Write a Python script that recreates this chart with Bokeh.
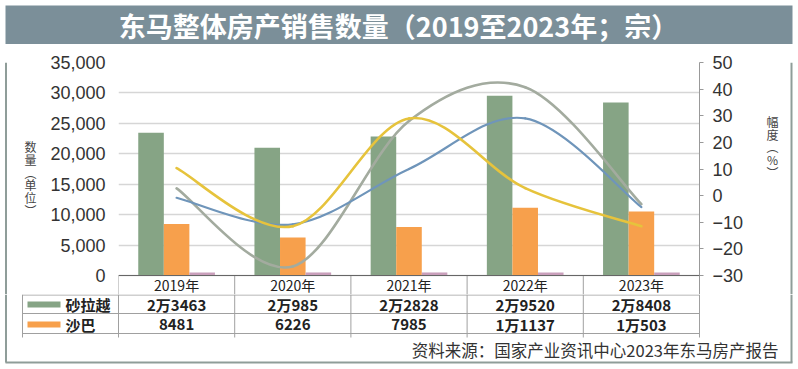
from bokeh.plotting import figure
from bokeh.layouts import column, row
from bokeh.models import (ColumnDataSource, Range1d, LinearAxis, FixedTicker,
                          NumeralTickFormatter, Span)
from bokeh.core.properties import value
from bokeh.transform import dodge
from bokeh.embed import file_html
from bokeh.resources import INLINE

# ---------------- data ----------------
years = ["2019年", "2020年", "2021年", "2022年", "2023年"]
sarawak = [23463, 20985, 22828, 29520, 28408]
sabah = [8481, 6226, 7985, 11137, 10503]
sarawak_txt = ["2万3463", "2万985", "2万2828", "2万9520", "2万8408"]
sabah_txt = ["8481", "6226", "7985", "1万1137", "1万503"]
pink = [500, 500, 500, 500, 500]
line_grey = [2.7, -26.6, 28.0, 40.7, -3.2]
line_blue = [-0.8, -10.8, 10.0, 29.0, -4.3]
line_yellow = [10.3, -11.5, 29.0, 2.8, -11.5]
left_ticks = [0, 5000, 10000, 15000, 20000, 25000, 30000, 35000]
right_ticks = [-30, -20, -10, 0, 10, 20, 30, 40, 50]
title_txt = "东马整体房产销售数量（2019至2023年；宗）"
source_txt = "资料来源：国家产业资讯中心2023年东马房产报告"
left_title = "数\n量\n︵\n单\n位\n︶"
right_title = "幅\n度\n︵\n%\n︶"
series_names = ["砂拉越", "沙巴"]

# ---------------- styles / layout ----------------
C_GREEN = "#86a485"
C_ORANGE = "#f7a04c"
C_PINK = "#c99fbb"
C_LGREY = "#a3ab9f"
C_BLUE = "#6f95ba"
C_YELLOW = "#e6c33c"
C_TITLE = "#7b8f99"
C_FRAME = "#8f9d99"
C_TABLE = "#a0a0a0"
FONT = "Noto Sans CJK SC"
NUMFONT = "Liberation Sans"

W, H = 796, 366          # whole block
TITLE_H = 44             # title strip height
AXIS_Y = 275             # pixel row of value 0 (x axis line)
HEAD_B = 294             # bottom of the header row (end of chart strip)
HEAD_Y = 284             # centre of the header labels
LEFT_W = 46              # left strip with vertical label
RIGHT_X = 755            # start of right strip
FRAME_L, FRAME_R, FRAME_T = 118, 699, 62
CW = (FRAME_R - FRAME_L) / len(years)

xs = list(range(len(years)))
src = ColumnDataSource(dict(x=xs, years=years, sarawak=sarawak, sabah=sabah,
                            pink=pink, st=sarawak_txt, sb=sabah_txt))


def deco_fig(x0, x1, y0, y1):
    f = figure(width=x1 - x0, height=y1 - y0, x_range=Range1d(x0, x1),
               y_range=Range1d(y1, y0), output_backend="svg",
               toolbar_location=None, x_axis_type=None, y_axis_type=None,
               min_border=0)
    f.outline_line_color = None
    f.xgrid.visible = False
    f.ygrid.visible = False
    f.background_fill_color = "white"
    f.border_fill_color = "white"
    return f


# ---------------- title strip ----------------
pt = deco_fig(0, W, 0, TITLE_H)
pt.quad(left=5, right=792, top=5, bottom=TITLE_H, fill_color=C_TITLE, line_color=None)
pt.text(x=[398], y=[25], text=[title_txt], text_font=value(FONT),
        text_font_style="bold", text_font_size="27px", text_color="white",
        text_align="center", text_baseline="middle")

# ---------------- left strip ----------------
pl = deco_fig(0, LEFT_W, TITLE_H, HEAD_B)
pl.segment(x0=[5.5], y0=[TITLE_H], x1=[5.5], y1=[HEAD_B], line_color=C_FRAME, line_width=2)
pl.text(x=[30], y=[169], text=[left_title], text_font=value(FONT),
        text_font_size="12px", text_color="#444444", text_align="center",
        text_baseline="middle", text_line_height=0.76)

# ---------------- right strip ----------------
pr = deco_fig(RIGHT_X, W, TITLE_H, HEAD_B)
pr.segment(x0=[791], y0=[TITLE_H], x1=[791], y1=[HEAD_B], line_color=C_FRAME, line_width=2)
pr.text(x=[772], y=[135], text=[right_title], text_font=value(FONT),
        text_font_size="12px", text_color="#444444", text_align="center",
        text_baseline="middle", text_line_height=0.76)

# ---------------- main chart ----------------
# the frame reaches down through the header row of the table
k_left = (left_ticks[-1] - left_ticks[0]) / (AXIS_Y - FRAME_T)
k_right = (right_ticks[-1] - right_ticks[0]) / (AXIS_Y - FRAME_T)
y_lo = left_ticks[0] - (HEAD_B - AXIS_Y) * k_left
r_lo = right_ticks[0] - (HEAD_B - AXIS_Y) * k_right
head_y = left_ticks[0] - (HEAD_Y - AXIS_Y) * k_left

p = figure(width=RIGHT_X - LEFT_W, height=HEAD_B - TITLE_H,
           x_range=Range1d(-0.5, len(years) - 0.5),
           y_range=Range1d(y_lo, left_ticks[-1]),
           output_backend="svg", toolbar_location=None,
           min_border_left=FRAME_L - LEFT_W, min_border_right=RIGHT_X - FRAME_R,
           min_border_top=FRAME_T - TITLE_H, min_border_bottom=0)
p.extra_y_ranges = {"pct": Range1d(r_lo, right_ticks[-1])}
p.outline_line_color = None
p.background_fill_color = "white"
p.border_fill_color = "white"
p.xaxis.visible = False

p.yaxis.ticker = FixedTicker(ticks=left_ticks)
p.yaxis.formatter = NumeralTickFormatter(format="0,0")
p.yaxis.axis_line_color = None
p.yaxis.major_tick_line_color = None
p.yaxis.minor_tick_line_color = None
p.yaxis.major_tick_out = 0
p.yaxis.major_label_standoff = 13
p.yaxis.major_label_text_font = NUMFONT
p.yaxis.major_label_text_font_size = "18px"
p.yaxis.major_label_text_color = "#333333"

overrides = {t: (str(t) if t >= 0 else "\u2212" + str(-t)) for t in right_ticks}
rax = LinearAxis(y_range_name="pct", ticker=FixedTicker(ticks=right_ticks),
                 major_label_overrides=overrides)
rax.axis_line_color = "#999999"
rax.major_tick_line_color = "#999999"
rax.major_tick_out = 4
rax.major_tick_in = 0
rax.minor_tick_line_color = None
rax.major_label_standoff = 9
rax.major_label_text_font = NUMFONT
rax.major_label_text_font_size = "18px"
rax.major_label_text_color = "#333333"
p.add_layout(rax, "right")

p.xgrid.visible = False
p.ygrid.ticker = FixedTicker(ticks=left_ticks)
p.ygrid.grid_line_color = "#d6d6d6"
p.ygrid.grid_line_width = 1.5

# header row of the table (inside the extended frame)
bounds = [i - 0.5 for i in range(len(years) + 1)]
p.segment(x0=bounds, y0=[left_ticks[0]] * len(bounds), x1=bounds,
          y1=[y_lo] * len(bounds), line_color=C_TABLE, line_width=1)
p.text(x="x", y=head_y, text="years", source=src, text_font=value(FONT),
       text_font_size="14px", text_color="#222222", text_align="center",
       text_baseline="middle")

bw = 0.22
p.vbar(x=dodge("x", -bw), top="sarawak", bottom=left_ticks[0], width=bw, source=src,
       fill_color=C_GREEN, line_color=None)
p.vbar(x=dodge("x", 0), top="sabah", bottom=left_ticks[0], width=bw, source=src,
       fill_color=C_ORANGE, line_color=None)
p.vbar(x=dodge("x", bw), top="pink", bottom=left_ticks[0], width=bw, source=src,
       fill_color=C_PINK, line_color=None)

p.add_layout(Span(location=left_ticks[0], dimension="width", line_color="#666666",
                  line_width=1.2))


def bez_source(vals):
    """Cubic bezier segments through the points (Catmull-Rom control points)."""
    n = len(vals)
    d = {k: [] for k in ["x0", "y0", "x1", "y1", "cx0", "cy0", "cx1", "cy1"]}
    for i in range(n - 1):
        a = max(i - 1, 0)
        b = min(i + 2, n - 1)
        d["x0"].append(xs[i]); d["y0"].append(vals[i])
        d["x1"].append(xs[i + 1]); d["y1"].append(vals[i + 1])
        d["cx0"].append(xs[i] + (xs[i + 1] - xs[a]) / 6)
        d["cy0"].append(vals[i] + (vals[i + 1] - vals[a]) / 6)
        d["cx1"].append(xs[i + 1] - (xs[b] - xs[i]) / 6)
        d["cy1"].append(vals[i + 1] - (vals[b] - vals[i]) / 6)
    return ColumnDataSource(d)


for vals, col, lw in [(line_grey, C_LGREY, 2.6), (line_blue, C_BLUE, 2.2),
                      (line_yellow, C_YELLOW, 2.6)]:
    p.bezier(x0="x0", y0="y0", x1="x1", y1="y1", cx0="cx0", cy0="cy0",
             cx1="cx1", cy1="cy1", source=bez_source(vals), y_range_name="pct",
             line_color=col, line_width=lw, line_cap="round")

# ---------------- table strip ----------------
tx0 = -0.5 - FRAME_L / CW
tx1 = len(years) - 0.5 + (W - FRAME_R) / CW
pb = figure(width=W, height=H - HEAD_B, x_range=Range1d(tx0, tx1),
            y_range=Range1d(H, HEAD_B), output_backend="svg",
            toolbar_location=None, x_axis_type=None, y_axis_type=None, min_border=0)
pb.extra_x_ranges = {"px": Range1d(0, W)}
pb.outline_line_color = None
pb.xgrid.visible = False
pb.ygrid.visible = False
pb.background_fill_color = "white"
pb.border_fill_color = "white"

pb.segment(x0=[22, 22, 22], y0=[HEAD_B + 0.5, 313, 333], x1=[FRAME_R] * 3,
           y1=[HEAD_B + 0.5, 313, 333], x_range_name="px", line_color=C_TABLE,
           line_width=1)
pb.segment(x0=[22], y0=[HEAD_B], x1=[22], y1=[337], x_range_name="px",
           line_color=C_TABLE, line_width=1)
pb.segment(x0=bounds, y0=[HEAD_B] * len(bounds), x1=bounds, y1=[337] * len(bounds),
           line_color=C_TABLE, line_width=1)

pb.quad(left=[27, 27], right=[60, 60], top=[301, 321], bottom=[307, 327],
        fill_color=[C_GREEN, C_ORANGE], line_color=None, x_range_name="px")
pb.text(x=[65, 65], y=[304, 324], text=series_names, x_range_name="px",
        text_font=value(FONT), text_font_style="bold", text_font_size="15px",
        text_color="#222222", text_align="left", text_baseline="middle")

pb.text(x="x", y=304, text="st", source=src, text_font=value(FONT),
        text_font_style="bold", text_font_size="15px", text_color="#222222",
        text_align="center", text_baseline="middle")
pb.text(x="x", y=324, text="sb", source=src, text_font=value(FONT),
        text_font_style="bold", text_font_size="15px", text_color="#222222",
        text_align="center", text_baseline="middle")

pb.text(x=[778], y=[349], text=[source_txt], x_range_name="px", text_font=value(FONT),
        text_font_size="16.5px", text_color="#333333", text_align="right",
        text_baseline="middle")

pb.segment(x0=[5.5, 791, 5], y0=[HEAD_B, HEAD_B, 362], x1=[5.5, 791, 792],
           y1=[362, 362, 362], x_range_name="px", line_color=C_FRAME, line_width=2)

layout = column(pt, row(pl, p, pr, spacing=0), pb, spacing=0)
open("out.html", "w").write(file_html(layout, INLINE))
